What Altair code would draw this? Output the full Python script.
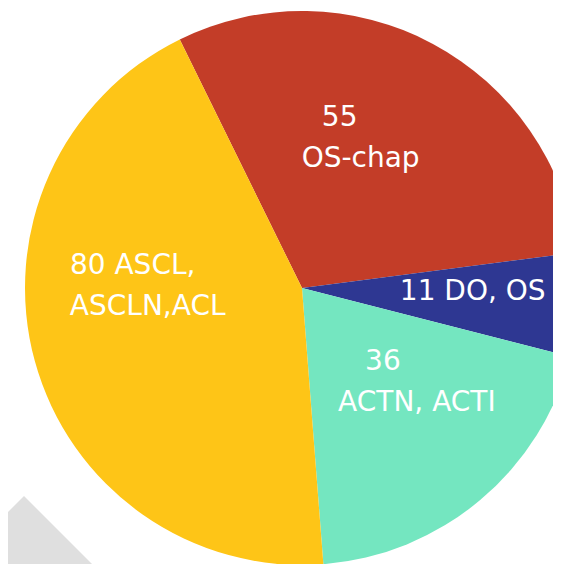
import altair as alt
import pandas as pd
import math

categories = ["OS-chap", "DO, OS", "ACTN, ACTI", "ASCL,\nASCLN,ACL"]
values = [55, 11, 36, 80]
value_lines = ["55", "11 DO, OS", "36", "80 ASCL,"]
name_lines = ["OS-chap", "", "ACTN, ACTI", "ASCLN,ACL"]
colors = ["#C33D28", "#2E3792", "#74E6C0", "#FEC517"]

df = pd.DataFrame({
    "cat": categories,
    "value": values,
    "order": list(range(len(values))),
    "line1": value_lines,
    "line2": name_lines,
})

# layout / style
W, H = 545, 556
CX, CY = 294, 280
R = 277
LABEL_R = 160
start = -0.457
# hand-placed label nudges (like dragged data labels), px, per slice order
NUDGE_X = "[-17, 11, 12, 0]"
NUDGE_Y = "[-8, -6, -28, -43]"
LINE1_SHIFT = "[-21, 0, -34, -15]"

theta_scale = alt.Scale(range=[start, start + 2 * math.pi])
color_scale = alt.Scale(domain=categories, range=colors)

deco = alt.Chart(pd.DataFrame({"k": [0]})).mark_point(
    shape="diamond", filled=True, opacity=1, color="#DFDFDF", size=57600, strokeWidth=0
).encode(x=alt.value(16), y=alt.value(608))

base = alt.Chart(df).encode(
    theta=alt.Theta("value:Q", stack=True, scale=theta_scale),
    order=alt.Order("order:Q"),
)

pie = base.mark_arc(outerRadius=R, innerRadius=0, strokeWidth=0).encode(
    color=alt.Color("cat:N", scale=color_scale, legend=None),
    x=alt.value(CX), y=alt.value(CY),
)

font = "DejaVu Sans"
t1 = base.mark_text(
    radius=LABEL_R, fontSize=28, font=font, color="white", align="center", baseline="middle",
    dx=alt.expr(f"{NUDGE_X}[datum.order] + {LINE1_SHIFT}[datum.order]"),
    dy=alt.expr(f"{NUDGE_Y}[datum.order] + (datum.line2 == '' ? 0 : -21)"),
).encode(text="line1:N", x=alt.value(CX), y=alt.value(CY))

t2 = base.mark_text(
    radius=LABEL_R, fontSize=28, font=font, color="white", align="center", baseline="middle",
    dx=alt.expr(f"{NUDGE_X}[datum.order]"),
    dy=alt.expr(f"{NUDGE_Y}[datum.order] + 20"),
).encode(text="line2:N", x=alt.value(CX), y=alt.value(CY))

chart = alt.layer(deco, pie, t1, t2).properties(
    width=W, height=H, padding=0, autosize=alt.AutoSizeParams(type="none")
).configure_view(stroke=None)

chart.save("out.html", embed_options={"renderer": "svg", "actions": False})
